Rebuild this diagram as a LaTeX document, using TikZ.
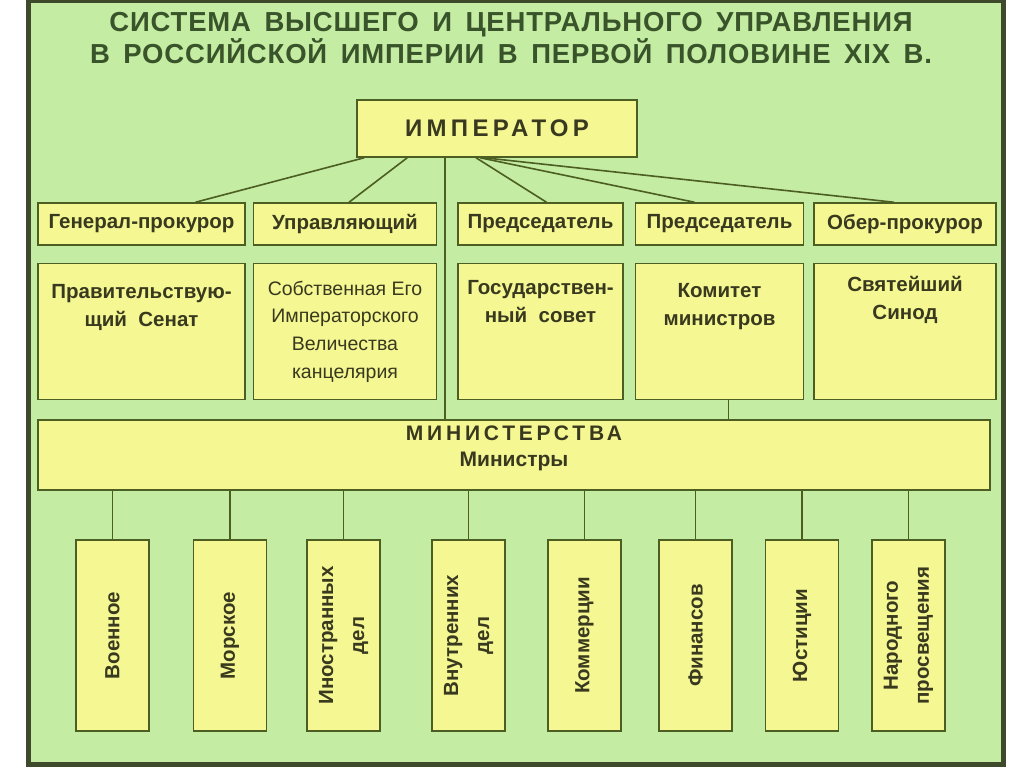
\documentclass[tikz,border=0pt]{standalone}
\usepackage{fontspec}
\setmainfont{Liberation Sans}
\newfontfamily\titlefont[LetterSpace=3,WordSpace=1.6]{Liberation Sans}
\newfontfamily\capsfont[LetterSpace=18]{Liberation Sans}
\usetikzlibrary{positioning,calc}
\definecolor{panelgreen}{HTML}{C4ECA2}
\definecolor{boxyellow}{HTML}{F5F793}
\definecolor{lineolive}{HTML}{4C5E22}
\definecolor{frameolive}{HTML}{3F4A2C}
\definecolor{textdark}{HTML}{38391E}
\definecolor{titlegreen}{HTML}{39532A}

\begin{document}
\begin{tikzpicture}[x=1pt,y=1pt,node distance=17pt,
    box/.style={draw=lineolive,line width=1.5pt,fill=boxyellow,inner sep=0pt},
    link/.style={draw=lineolive,line width=1.6pt},
    lbl/.style={font=\fontsize{20.5}{28}\selectfont\bfseries,text=textdark,align=center,inner sep=0pt}]
    \useasboundingbox (0,0) rectangle (1024,-767);
    \fill[white] (0,0) rectangle (1024,-767);
    % panel
    \draw[draw=frameolive,line width=5pt,fill=panelgreen] (28.5,-1) rectangle (1003,-764);
    \node[font=\titlefont\fontsize{27.5}{30}\selectfont\bfseries,text=titlegreen,align=center] (title) at (511,-38) {СИСТЕМА ВЫСШЕГО И ЦЕНТРАЛЬНОГО УПРАВЛЕНИЯ\\В РОССИЙСКОЙ ИМПЕРИИ В ПЕРВОЙ ПОЛОВИНЕ XIX В.};
    % emperor
    \node[box,minimum width=280pt,minimum height=57pt,font=\capsfont\fontsize{24}{28}\selectfont\bfseries,text=textdark] (emp) at (497,-128.5) {ИМПЕРАТОР};
    % heads
    \node[box,lbl,minimum width=207pt,minimum height=42pt] (gp) at (141.5,-224) {Генерал-прокурор};
    \node[box,lbl,minimum width=183pt,minimum height=42pt,right=7pt of gp] (upr) {Управляющий};
    \node[box,lbl,minimum width=165pt,minimum height=42pt,right=20pt of upr] (pred1) {Председатель};
    \node[box,lbl,minimum width=168pt,minimum height=42pt,right=11pt of pred1] (pred2) {Председатель};
    \node[box,lbl,minimum width=182pt,minimum height=42pt,right=9pt of pred2] (ober) {Обер-прокурор};
    % institutions
    \node[box,minimum width=207pt,minimum height=136pt,below=of gp] (senat) {};
    \node[box,minimum width=183pt,minimum height=136pt,below=of upr] (kanc) {};
    \node[box,minimum width=165pt,minimum height=136pt,below=of pred1] (gsovet) {};
    \node[box,minimum width=168pt,minimum height=136pt,below=of pred2] (komitet) {};
    \node[box,minimum width=182pt,minimum height=136pt,below=of ober] (sinod) {};
    \node[lbl,below=21pt of senat.north] (senat-t) {Правительствую-\\щий~~Сенат};
    \node[lbl,font=\fontsize{19.5}{27.7}\selectfont,below=18pt of kanc.north] (kanc-t) {Собственная Его\\Императорского\\Величества\\канцелярия};
    \node[lbl,below=17pt of gsovet.north] (gsovet-t) {Государствен-\\ный~~совет};
    \node[lbl,below=20pt of komitet.north] (komitet-t) {Комитет\\министров};
    \node[lbl,below=13pt of sinod.north] (sinod-t) {Святейший\\Синод};
    % ministries
    \node[box,minimum width=952pt,minimum height=70pt] (min) at (514,-455) {};
    \node[align=center,text=textdark,inner sep=0pt,font=\fontsize{21}{26}\selectfont\bfseries] (min-t) at ([yshift=7pt]min.center) {{\capsfont МИНИСТЕРСТВА}\\Министры};
    \node[box,minimum width=73pt,minimum height=191pt] (voen) at (112.5,-635.5) {};
    \node[box,minimum width=73pt,minimum height=191pt] (mors) at (230,-635.5) {};
    \node[box,minimum width=73pt,minimum height=191pt] (inos) at (343.5,-635.5) {};
    \node[box,minimum width=73pt,minimum height=191pt] (vnut) at (468.5,-635.5) {};
    \node[box,minimum width=73pt,minimum height=191pt] (komm) at (584.5,-635.5) {};
    \node[box,minimum width=73pt,minimum height=191pt] (fin) at (695.5,-635.5) {};
    \node[box,minimum width=73pt,minimum height=191pt] (just) at (802,-635.5) {};
    \node[box,minimum width=73pt,minimum height=191pt] (nar) at (908.5,-635.5) {};
    \node[lbl,font=\fontsize{20.5}{31}\selectfont\bfseries,rotate=90] (voen-t) at (voen) {Военное};
    \node[lbl,font=\fontsize{20.5}{31}\selectfont\bfseries,rotate=90] (mors-t) at (mors) {Морское};
    \node[lbl,font=\fontsize{20.5}{31}\selectfont\bfseries,rotate=90] (inos-t) at (inos) {Иностранных\\дел};
    \node[lbl,font=\fontsize{20.5}{31}\selectfont\bfseries,rotate=90] (vnut-t) at (vnut) {Внутренних\\дел};
    \node[lbl,font=\fontsize{20.5}{31}\selectfont\bfseries,rotate=90] (komm-t) at (komm) {Коммерции};
    \node[lbl,font=\fontsize{20.5}{31}\selectfont\bfseries,rotate=90] (fin-t) at (fin) {Финансов};
    \node[lbl,font=\fontsize{20.5}{31}\selectfont\bfseries,rotate=90] (just-t) at (just) {Юстиции};
    \node[lbl,font=\fontsize{20.5}{31}\selectfont\bfseries,rotate=90] (nar-t) at (nar) {Народного\\просвещения};
    % links from the emperor
    \draw[link] ([xshift=8pt]emp.south west) -- ([xshift=54pt]gp.north);
    \draw[link] ([xshift=51pt]emp.south west) -- ([xshift=4pt]upr.north);
    \draw[link] ([xshift=-21pt]emp.south) -- ([xshift=6pt]pred1.north);
    \draw[link] ([xshift=-17pt]emp.south) -- ([xshift=-25pt]pred2.north);
    \draw[link] ([xshift=-13pt]emp.south) -- ([xshift=-11pt]ober.north);
    \coordinate (axis) at ([xshift=-52pt]emp.south);
    \draw[link] (axis) -- (axis |- min.north);
    \coordinate (kmlink) at ([xshift=9pt]komitet.south);
    \draw[link] (kmlink) -- (kmlink |- min.north);
    % links to ministries
    \draw[link] (voen.north) -- (voen.north |- min.south);
    \draw[link] (mors.north) -- (mors.north |- min.south);
    \draw[link] (inos.north) -- (inos.north |- min.south);
    \draw[link] (vnut.north) -- (vnut.north |- min.south);
    \draw[link] (komm.north) -- (komm.north |- min.south);
    \draw[link] (fin.north) -- (fin.north |- min.south);
    \draw[link] (just.north) -- (just.north |- min.south);
    \draw[link] (nar.north) -- (nar.north |- min.south);
\end{tikzpicture}
\end{document}
